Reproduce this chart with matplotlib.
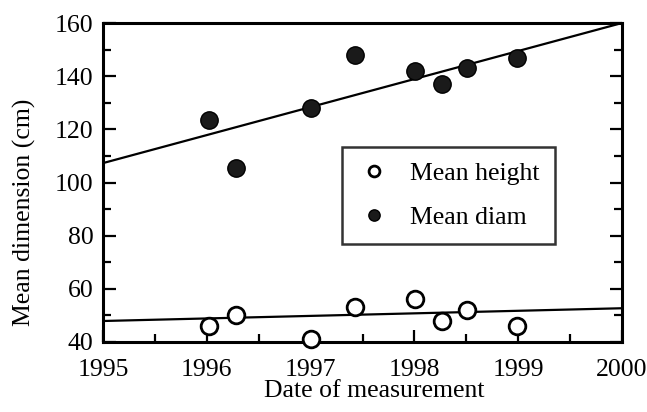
import matplotlib.pyplot as plt
import numpy as np

# measurement dates (decimal years)
dates = [1996.02, 1996.28, 1997.0, 1997.43, 1998.01, 1998.27, 1998.51, 1998.99]
mean_height = [46, 50, 41, 53, 56, 48, 52, 46]
mean_diam = [123.5, 105.5, 128, 148, 142, 137, 143, 147]

# fitted trend lines, evaluated at the axis ends
fit_x = [1995, 2000]
fit_height = [47.9, 52.7]
fit_diam = [107.3, 160.0]

plt.rcParams["font.family"] = ["Liberation Serif", "DejaVu Serif"]
FS = 18.5

fig = plt.figure(figsize=(6.47, 4.12), dpi=100)
ax = fig.add_axes([103 / 647, 1 - 342 / 412, 519 / 647, 319 / 412])

ax.plot(fit_x, fit_diam, color="black", lw=1.6, zorder=2)
ax.plot(fit_x, fit_height, color="black", lw=1.6, zorder=2)

ax.plot(dates, mean_height, "o", ms=12, mfc="white", mec="black", mew=2.0,
        label="Mean height", zorder=3, clip_on=False)
ax.plot(dates, mean_diam, "o", ms=12.5, mfc="#1a1a1a", mec="black", mew=1.0,
        label="Mean diam", zorder=3, clip_on=False)

ax.set_xlim(1995, 2000)
ax.set_ylim(40, 160)
ax.set_xticks(np.arange(1995, 2001, 1))
ax.set_xticks(np.arange(1995.5, 2000, 1), minor=True)
ax.set_yticks(np.arange(40, 161, 20))
ax.set_yticks(np.arange(50, 160, 20), minor=True)

ax.tick_params(axis="both", which="both", direction="in", top=False, right=True,
               labelsize=FS, width=1.6)
ax.tick_params(axis="both", which="major", length=9)
ax.tick_params(axis="both", which="minor", length=6)
ax.tick_params(axis="x", which="major", pad=12)
ax.tick_params(axis="y", which="major", pad=7)
for s in ax.spines.values():
    s.set_linewidth(2.2)

fig.text(374 / 647, 1 - 391 / 412, "Date of measurement", fontsize=FS,
         ha="center", va="center")
fig.text(24 / 647, 1 - 212 / 412, "Mean dimension (cm)", fontsize=FS,
         ha="center", va="center", rotation=90)

leg = ax.legend(loc="upper left", bbox_to_anchor=(239 / 519, 1 - 124 / 319),
                fontsize=FS, frameon=True, fancybox=False, edgecolor="black",
                handletextpad=0.75, borderpad=0.6, labelspacing=0.8,
                handlelength=1.3, borderaxespad=0, markerscale=0.65)
leg.get_frame().set_linewidth(1.8)

fig.savefig("out.png", dpi=100)
